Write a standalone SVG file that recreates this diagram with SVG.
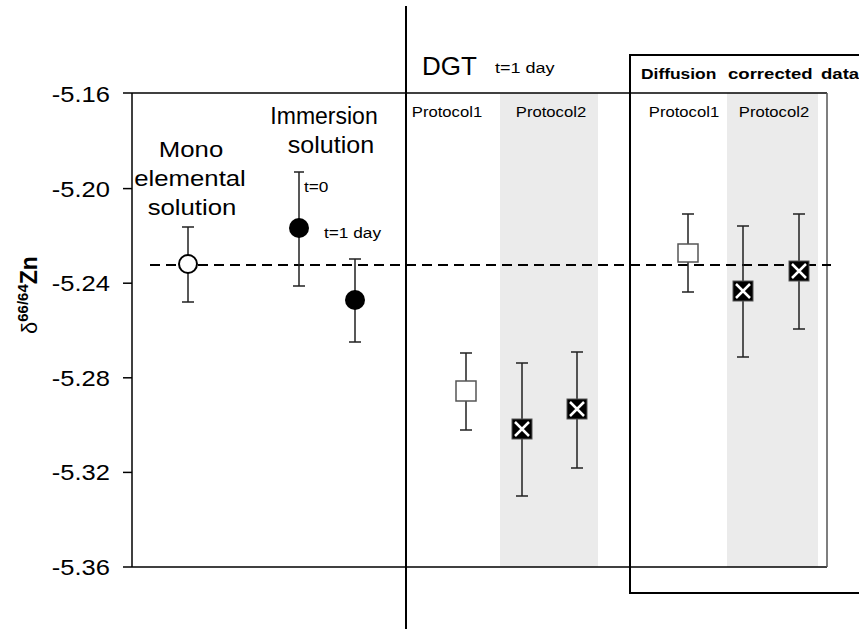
<svg xmlns="http://www.w3.org/2000/svg" width="859" height="629" viewBox="0 0 859 629">
<style>
text{font-family:"Liberation Sans",Arial,sans-serif;fill:#000}
.tick{font-size:22px;text-anchor:end}
.lbl{font-size:23px;text-anchor:middle}
.prot{font-size:15px;text-anchor:middle}
.small{font-size:15px}
.hd{font-size:14.5px;font-weight:bold}
.ax{stroke:#000;stroke-width:1.5;fill:none}
.eb{stroke:#222;stroke-width:1.5;fill:none}
.band{fill:#EBEBEB}
</style>
<defs>
<g id="xsq">
<rect x="-10" y="-10" width="20" height="20" fill="#000" stroke="#555" stroke-width="1"/>
<path d="M-7,-7L7,7M7,-7L-7,7" stroke="#fff" stroke-width="2.5"/>
</g>
</defs>
<rect width="859" height="629" fill="#fff"/>
<g id="bands">
<rect class="band" x="500" y="93" width="98" height="474"/>
<rect class="band" x="727" y="93" width="91" height="474"/>
</g>
<g id="axes">
<line class="ax" x1="123" y1="93" x2="827" y2="93"/>
<line class="ax" x1="123" y1="567" x2="827" y2="567"/>
<line class="ax" x1="132" y1="93" x2="132" y2="567"/>
<line x1="827" y1="93" x2="827" y2="567" stroke="#555" stroke-width="1.5"/>
<line class="ax" x1="123" y1="188.6" x2="132" y2="188.6"/>
<line class="ax" x1="123" y1="283.2" x2="132" y2="283.2"/>
<line class="ax" x1="123" y1="377.8" x2="132" y2="377.8"/>
<line class="ax" x1="123" y1="472.4" x2="132" y2="472.4"/>
<text class="tick" transform="translate(110,102) scale(1.16,1)">-5.16</text>
<text class="tick" transform="translate(110,196.6) scale(1.16,1)">-5.20</text>
<text class="tick" transform="translate(110,291.2) scale(1.16,1)">-5.24</text>
<text class="tick" transform="translate(110,385.8) scale(1.16,1)">-5.28</text>
<text class="tick" transform="translate(110,480.4) scale(1.16,1)">-5.32</text>
<text class="tick" transform="translate(110,575) scale(1.16,1)">-5.36</text>
<text transform="translate(37,334) rotate(-90)"><tspan font-size="22">δ</tspan><tspan font-size="15" font-weight="bold" dy="-9">66/64</tspan><tspan font-size="23" font-weight="bold" dy="9">Zn</tspan></text>
</g>
<g id="separator">
<line x1="406" y1="6" x2="406" y2="629" stroke="#000" stroke-width="2"/>
</g>
<g id="corrected-box">
<path d="M870,55H630V593H870" fill="none" stroke="#000" stroke-width="2"/>
<text class="hd" transform="translate(641,79) scale(1.2,1)">Diffusion</text>
<text class="hd" transform="translate(728,79) scale(1.28,1)">corrected</text>
<text class="hd" transform="translate(821,79) scale(1.28,1)">data</text>
</g>
<g id="headers">
<text transform="translate(422,75)" font-size="26">DGT</text>
<text transform="translate(495,73) scale(1.2,1)" class="small">t=1 day</text>
<text class="prot" transform="translate(447,117) scale(1.11,1)">Protocol1</text>
<text class="prot" transform="translate(551,117) scale(1.11,1)">Protocol2</text>
<text class="prot" transform="translate(684,117) scale(1.11,1)">Protocol1</text>
<text class="prot" transform="translate(774,117) scale(1.11,1)">Protocol2</text>
<text class="lbl" transform="translate(191,157) scale(1.12,1)">Mono</text>
<text class="lbl" transform="translate(190,186) scale(1.12,1)">elemental</text>
<text class="lbl" transform="translate(192,215) scale(1.12,1)">solution</text>
<text class="lbl" transform="translate(324,124)">Immersion</text>
<text class="lbl" transform="translate(331,153) scale(1.09,1)">solution</text>
<text class="small" transform="translate(304,192) scale(1.15,1)">t=0</text>
<text class="small" transform="translate(324,238) scale(1.15,1)">t=1 day</text>
</g>
<g id="reference-line">
<line x1="150" y1="265" x2="831" y2="265" stroke="#000" stroke-width="2" stroke-dasharray="10,6"/>
</g>
<g id="mono">
<path class="eb" d="M188,227V302M182,227H194M182,302H194"/>
<circle cx="188" cy="264" r="9" fill="#fff" stroke="#000" stroke-width="2"/>
</g>
<g id="immersion-t0">
<path class="eb" d="M299,172V286M294,172H304M293,286H305"/>
<circle cx="299" cy="228" r="10" fill="#000"/>
</g>
<g id="immersion-t1">
<path class="eb" d="M355,259V342M349,259H361M349,342H361"/>
<circle cx="355" cy="300" r="10" fill="#000"/>
</g>
<g id="dgt-p1">
<path class="eb" d="M466,353V430M460,353H472M460,430H472"/>
<rect x="456" y="381" width="20" height="20" fill="#fff" stroke="#555" stroke-width="1.5"/>
</g>
<g id="dgt-p2a">
<path class="eb" d="M522,363V496M516,363H528M516,496H528"/>
<use href="#xsq" x="522" y="429"/>
</g>
<g id="dgt-p2b">
<path class="eb" d="M577,352V468M571,352H583M571,468H583"/>
<use href="#xsq" x="577" y="409"/>
</g>
<g id="corr-p1">
<path class="eb" d="M688,214V292M682,214H694M682,292H694"/>
<rect x="678" y="244" width="20" height="18" fill="#fff" stroke="#555" stroke-width="1.5"/>
</g>
<g id="corr-p2a">
<path class="eb" d="M743,226V357M737,226H749M737,357H749"/>
<use href="#xsq" x="743" y="291"/>
</g>
<g id="corr-p2b">
<path class="eb" d="M799,214V329M793,214H805M793,329H805"/>
<use href="#xsq" x="799" y="271"/>
</g>
</svg>
